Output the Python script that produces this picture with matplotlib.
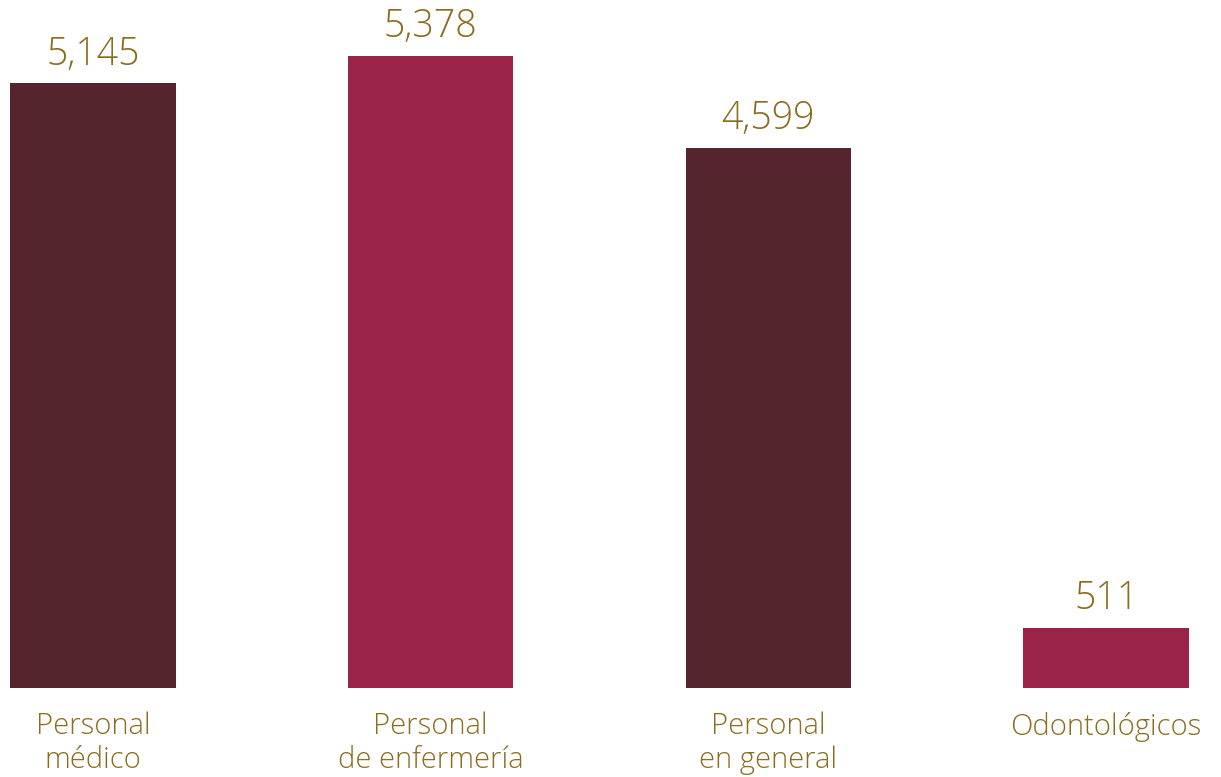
import matplotlib
matplotlib.use("Agg")
import matplotlib.pyplot as plt

categorias = ["Personal\nmédico", "Personal\nde enfermería", "Personal\nen general", "Odontológicos"]
valores = [5145, 5378, 4599, 511]
colores = ["#56242D", "#9B2347", "#56242D", "#9B2347"]
dorado = "#8C6D1F"

plt.rcParams['font.family'] = ['Open Sans', 'DejaVu Sans']

fig = plt.figure(figsize=(12.21, 7.77), dpi=100)
ax = fig.add_axes([0, 0, 1, 1])
x = range(len(valores))
barras = ax.bar(x, valores, width=0.49, color=colores)

for xi, v in zip(x, valores):
    ax.annotate(f"{v:,}", (xi, v), xytext=(0, 7), textcoords="offset points",
                ha="center", va="bottom", fontsize=27, color=dorado, fontweight=300)

for xi, cat in zip(x, categorias):
    ax.annotate(cat, (xi, 0), xytext=(0, -17), textcoords="offset points",
                ha="center", va="top", fontsize=21, color=dorado,
                linespacing=1.18, fontweight=300)

ax.set_xlim(-0.275, 3.34)
ax.set_ylim(-757, 5855)
ax.axis("off")

plt.savefig("out.png", dpi=100)
